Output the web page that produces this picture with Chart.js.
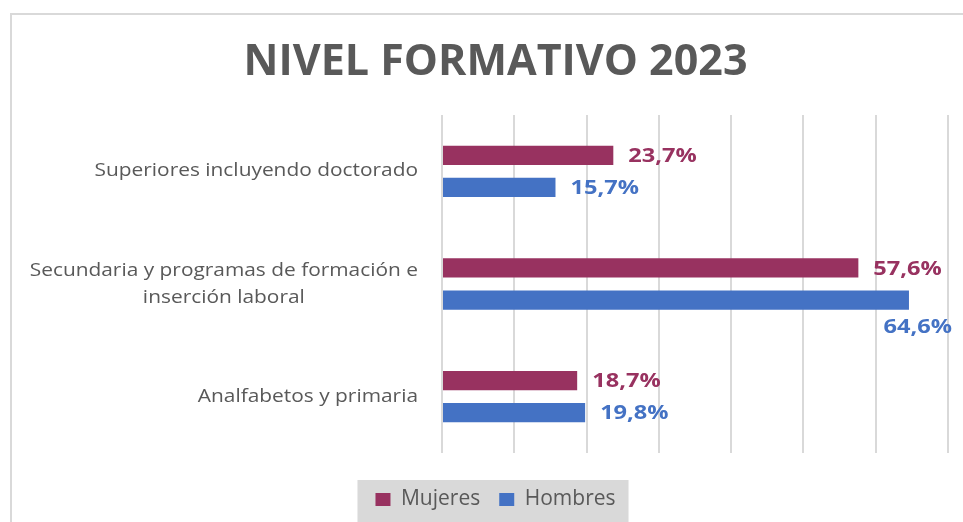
<!DOCTYPE html>
<html><head><meta charset="utf-8">
<script src="https://cdn.jsdelivr.net/npm/chart.js@4/dist/chart.umd.min.js"></script>
<style>html,body{margin:0;padding:0;background:#fff}#wrap{width:963px;height:522px;position:relative}</style>
</head><body><div id="wrap"><canvas id="c"></canvas></div>
<script>
const categories = [
  ["Superiores incluyendo doctorado"],
  ["Secundaria y programas de formación e", "inserción laboral"],
  ["Analfabetos y primaria"]
];
const seriesNames = ["Mujeres", "Hombres"];
const mujeres = [23.7, 57.6, 18.7];
const hombres = [15.7, 64.6, 19.8];
const xMin = 0, xMax = 70, xStep = 10;
const titleText = "NIVEL FORMATIVO 2023";

const FONT = "'Open Sans', sans-serif";
const GREY = "#595959";
const C_MUJ = "#983260";
const C_HOM = "#4472C4";
const STRETCH_CAT = 1.16;
const STRETCH_VAL = 1.18;

function drawStretched(ctx, txt, x, y, align, sx) {
  ctx.save();
  ctx.translate(x, y);
  ctx.scale(sx, 1);
  ctx.textAlign = align;
  ctx.fillText(txt, 0, 0);
  ctx.restore();
}

const decor = {
  id: 'decor',
  beforeDraw(chart) {
    const ctx = chart.ctx;
    ctx.save();
    ctx.strokeStyle = '#d9d9d9';
    ctx.lineWidth = 2;
    ctx.strokeRect(11, 14, 990, 560);
    const hb = chart.legend.legendHitBoxes;
    if (hb && hb.length) {
      let l = Infinity, r = -Infinity, t = Infinity, b = -Infinity;
      hb.forEach(h => { l = Math.min(l, h.left); r = Math.max(r, h.left + h.width); t = Math.min(t, h.top); b = Math.max(b, h.top + h.height); });
      ctx.fillStyle = '#d9d9d9';
      ctx.fillRect(l - 18, t - 9, (r - l) + 31, (b - t) + 30);
    }
    ctx.restore();
  },
  afterDraw(chart) {
    const ctx = chart.ctx;
    const ys = chart.scales.y;
    ctx.save();
    ctx.fillStyle = GREY;
    ctx.font = "18px " + FONT;
    ctx.textBaseline = 'middle';
    const rightEdge = 418, lh = 27;
    categories.forEach((lines, i) => {
      const cy = ys.getPixelForValue(i);
      const widths = lines.map(s => ctx.measureText(s).width * STRETCH_CAT);
      const bw = Math.max(...widths);
      const cx = rightEdge - bw / 2;
      lines.forEach((s, k) => {
        drawStretched(ctx, s, cx, cy + (k - (lines.length - 1) / 2) * lh, 'center', STRETCH_CAT);
      });
    });
    ctx.restore();
  },
  afterDatasetsDraw(chart) {
    const ctx = chart.ctx;
    ctx.save();
    ctx.font = "bold 20px " + FONT;
    ctx.textBaseline = 'middle';
    chart.data.datasets.forEach((ds, di) => {
      const meta = chart.getDatasetMeta(di);
      meta.data.forEach((el, i) => {
        const txt = ds.data[i].toFixed(1).replace('.', ',') + '%';
        const w = ctx.measureText(txt).width * STRETCH_VAL;
        ctx.fillStyle = ds.labelColor;
        if (el.x + 15 + w > chart.width - 8) {
          drawStretched(ctx, txt, chart.width - 11, el.y + 27, 'right', STRETCH_VAL);
        } else {
          drawStretched(ctx, txt, el.x + 15, el.y + 1, 'left', STRETCH_VAL);
        }
      });
    });
    ctx.restore();
  }
};

new Chart(document.getElementById('c'), {
  type: 'bar',
  data: {
    labels: categories,
    datasets: [
      { label: seriesNames[0], data: mujeres, backgroundColor: C_MUJ, labelColor: C_MUJ, barPercentage: 0.6, categoryPercentage: 0.57 },
      { label: seriesNames[1], data: hombres, backgroundColor: C_HOM, labelColor: C_HOM, barPercentage: 0.6, categoryPercentage: 0.57 }
    ]
  },
  options: {
    indexAxis: 'y',
    responsive: true,
    maintainAspectRatio: false,
    animation: false,
    events: [],
    layout: { padding: { left: 43, right: 15, top: 0, bottom: 2 } },
    scales: {
      x: {
        min: xMin, max: xMax,
        ticks: { display: false, stepSize: xStep },
        grid: { color: '#d9d9d9', lineWidth: 2, drawTicks: false },
        border: { display: false },
        afterFit(s) { s.height = 17; }
      },
      y: {
        ticks: { display: false },
        grid: { display: false },
        border: { display: false },
        afterFit(s) { s.width = 399; }
      }
    },
    plugins: {
      title: {
        display: true, text: titleText, color: GREY,
        font: { family: FONT, size: 43, weight: 'bold', lineHeight: 1.2 },
        padding: { top: 37, bottom: 26.4 }
      },
      legend: {
        position: 'bottom',
        labels: { color: GREY, font: { family: FONT, size: 21 }, boxWidth: 15, boxHeight: 13, padding: 19 }
      },
      tooltip: { enabled: false }
    }
  },
  plugins: [decor]
});
</script>
</body></html>
